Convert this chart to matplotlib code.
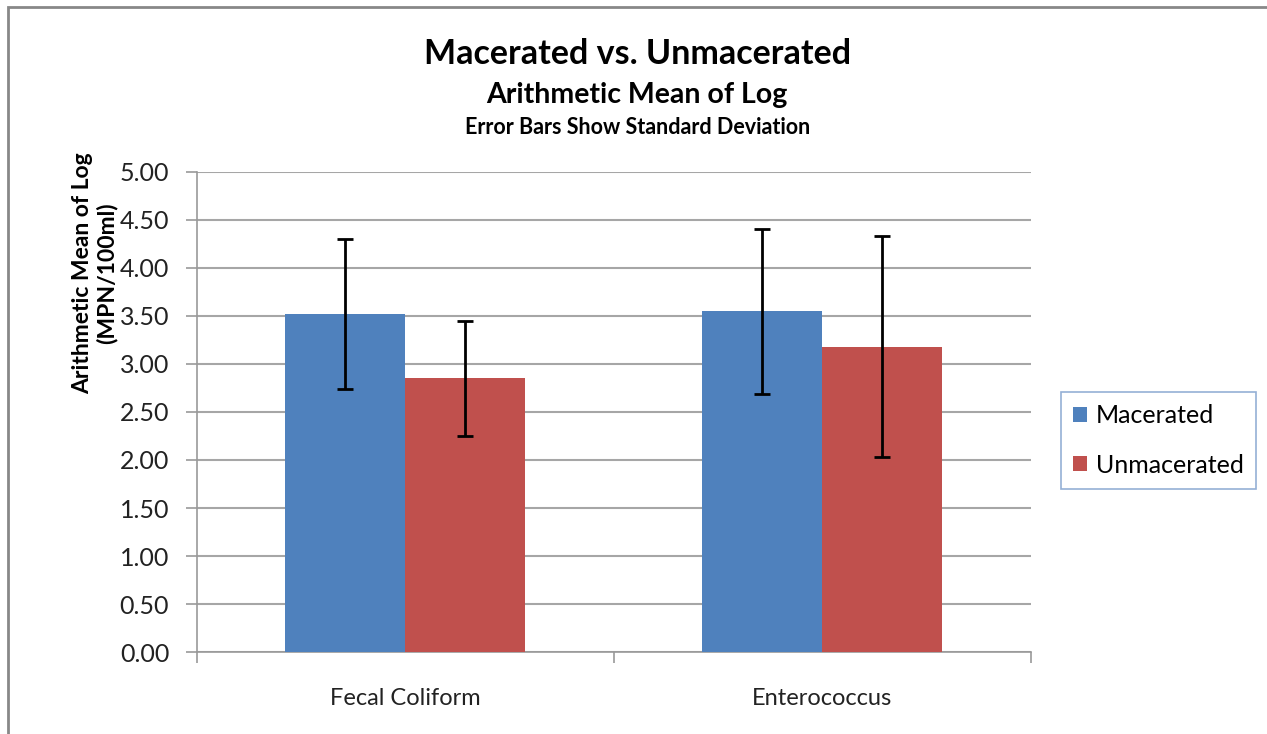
import matplotlib
matplotlib.use("Agg")
import matplotlib.pyplot as plt
from matplotlib.patches import Rectangle
import numpy as np

plt.rcParams['font.family'] = ['Lato', 'DejaVu Sans']

# data
categories = ["Fecal Coliform", "Enterococcus"]
series_names = ["Macerated", "Unmacerated"]
macerated = [3.52, 3.55]
unmacerated = [2.85, 3.18]
macerated_sd = [0.78, 0.86]
unmacerated_sd = [0.60, 1.15]
yticks = [0.0, 0.5, 1.0, 1.5, 2.0, 2.5, 3.0, 3.5, 4.0, 4.5, 5.0]

colors = ['#4F81BD', '#C0504D']

fig = plt.figure(figsize=(12.67, 7.34), dpi=100)
ax = fig.add_axes([0.1555, 0.1117, 0.658, 0.654])

x = np.arange(len(categories))
w = 0.288
err_kw = dict(ecolor='black', elinewidth=2, capsize=6, capthick=2)
ax.bar(x - w / 2, macerated, w, yerr=macerated_sd, color=colors[0], label=series_names[0],
       error_kw=err_kw, zorder=3)
ax.bar(x + w / 2, unmacerated, w, yerr=unmacerated_sd, color=colors[1], label=series_names[1],
       error_kw=err_kw, zorder=3)

ax.set_xlim(-0.5, 1.5)
ax.set_ylim(0, 5)
ax.set_yticks(yticks)
ax.set_yticklabels(["%.2f" % v for v in yticks], fontsize=18, color='#222222')
ax.set_xticks([-0.5, 0.5, 1.5], minor=False)
ax.set_xticklabels([])
ax.set_xticks(x, minor=True)
ax.set_xticklabels(categories, minor=True, fontsize=17, color='#222222')
ax.tick_params(axis='x', which='minor', length=0, pad=26)
ax.tick_params(axis='x', which='major', length=8, color='#999999', width=1.2)
ax.tick_params(axis='y', length=8, color='#999999', width=1.2, pad=12)

ax.yaxis.grid(True, color='#A6A6A6', linewidth=1.5, zorder=0)
ax.set_axisbelow(True)
for s in ['top', 'right']:
    ax.spines[s].set_visible(False)
for s in ['left', 'bottom']:
    ax.spines[s].set_color('#999999')
    ax.spines[s].set_linewidth(1.2)

ax.set_ylabel("Arithmetic Mean of Log\n(MPN/100ml)", fontsize=16.5, fontweight='bold', linespacing=1.15)
ax.yaxis.set_label_coords(-0.095, 0.79)

fig.text(0.503, 0.927, "Macerated vs. Unmacerated", ha='center', va='center', fontsize=24.5, fontweight='bold')
fig.text(0.503, 0.871, "Arithmetic Mean of Log", ha='center', va='center', fontsize=20.5, fontweight='bold')
fig.text(0.503, 0.826, "Error Bars Show Standard Deviation", ha='center', va='center', fontsize=15.5, fontweight='bold')

leg = fig.legend(loc='center left', bbox_to_anchor=(0.8374, 0.40), fontsize=18, frameon=True,
                 fancybox=False, handlelength=0.55, handleheight=0.55, handletextpad=0.35,
                 labelspacing=1.05, borderpad=0.5, borderaxespad=0)
leg.get_frame().set_edgecolor('#7A9CCB')
leg.get_frame().set_linewidth(1.2)

# outer chart frame (right and bottom run off the picture)
fig.patches.append(Rectangle((0.0063, -0.05), 1.05, 0.9905 + 0.05, transform=fig.transFigure,
                             fill=False, edgecolor='#888888', linewidth=2))

fig.savefig("out.png", dpi=100)
